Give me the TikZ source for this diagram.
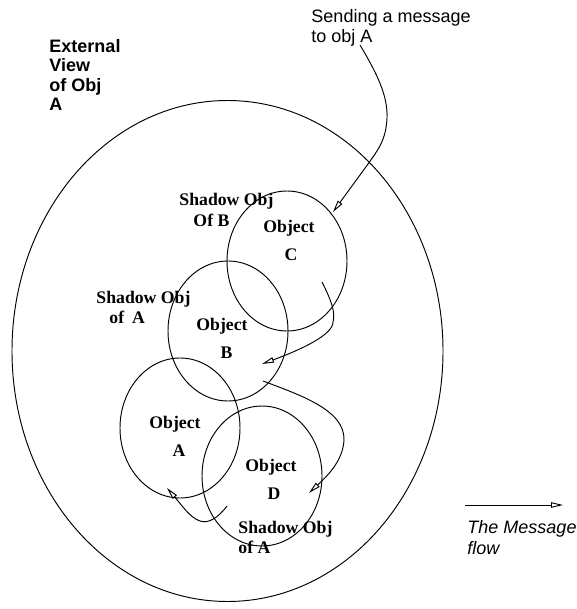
\documentclass[tikz,border=0pt]{standalone}
\usepackage{fontspec}
\setmainfont{Liberation Serif}
\newfontfamily\helvfont{Liberation Sans}
\usetikzlibrary{arrows.meta,shapes.geometric}
\begin{document}
\begin{tikzpicture}[x=1pt,y=-1pt,
  line width=0.95pt,
  flow/.style={-{Triangle[open,length=12pt,width=5.5pt]}},
  objring/.style={draw,ellipse,inner sep=0pt,minimum width=120pt,minimum height=140pt},
  objtext/.style={font={\fontsize{17.7}{28}\selectfont\bfseries},align=center,anchor=base,inner sep=0pt},
  shadowtext/.style={font={\fontsize{17.7}{20.5}\selectfont\bfseries},align=left,anchor=base west,inner sep=0pt},
  sanstext/.style={font={\helvfont\fontsize{18}{20}\selectfont},align=left,anchor=base west,inner sep=0pt}
]
\useasboundingbox (0,0) rectangle (576,609);

% outer boundary: the external view of object A
\node[draw,ellipse,inner sep=0pt,minimum width=431pt,minimum height=501pt] (outer) at (227.5,351) {};

% the four objects
\node[objring] (ringC) at (287,261) {};
\node[objring] (ringB) at (228,331) {};
\node[objring] (ringA) at (180,428) {};
\node[objring] (ringD) at (262,476) {};

% object names (anchored on the baseline of the last line)
\node[objtext] (nameC) at (289,260) {Object\\\hspace*{4pt}C};
\node[objtext] (nameB) at (222,358) {Object\\\hspace*{9pt}B};
\node[objtext] (nameA) at (175,456) {Object\\\hspace*{8pt}A};
\node[objtext] (nameD) at (271,499) {Object\\\hspace*{6pt}D};

% shadow labels
\node[shadowtext] (shB) at (179,226) {Shadow Obj\\\hspace*{14pt}Of B};
\node[shadowtext] (shA) at (96,323.5) {Shadow Obj\\\hspace*{13pt}of\hspace{8pt}A};
\node[shadowtext] (shA2) at (238,553.5) {Shadow Obj\\of A};

% plain captions
\node[sanstext,font={\helvfont\bfseries\fontsize{18}{19.3}\selectfont}] (extview) at (49,110.4) {External\\View\\of Obj\\A};
\node[sanstext] (sendtxt) at (311,43) {Sending a message\\to obj A};
\node[sanstext,font={\helvfont\itshape\fontsize{18}{20.7}\selectfont}] (legendtxt) at (467,554) {The Message\\flow};

% connector end points
\coordinate (m0) at (360,45);
\coordinate (m1) at (387,118);
\coordinate (m2) at (368,164);
\coordinate (m3) at (333,212);
\coordinate (cb0) at (322,282);
\coordinate (cb1) at (333,322);
\coordinate (cb2) at (262,364);
\coordinate (bd0) at (263,381);
\coordinate (bd1) at (344,440);
\coordinate (bd2) at (309,493);
\coordinate (da0) at (227,506);
\coordinate (da1) at (200,521);
\coordinate (da2) at (167,488);
\coordinate (lg0) at (465,505);
\coordinate (lg1) at (563,505);

% the message travelling through the objects
\draw[flow] (m0) .. controls (376,72) and (388,95) .. (m1)
  .. controls (386,140) and (378,150) .. (m2) -- (m3);
\draw[flow] (cb0) .. controls (330,298) and (336,312) .. (cb1)
  .. controls (333,335) and (300,350) .. (cb2);
\draw[flow] (bd0) .. controls (300,395) and (345,410) .. (bd1)
  .. controls (343,462) and (325,478) .. (bd2);
\draw[flow] (da0) .. controls (218,518) and (208,524) .. (da1)
  .. controls (190,518) and (180,503) .. (da2);

% legend
\draw[flow] (lg0) -- (lg1);
\end{tikzpicture}
\end{document}
